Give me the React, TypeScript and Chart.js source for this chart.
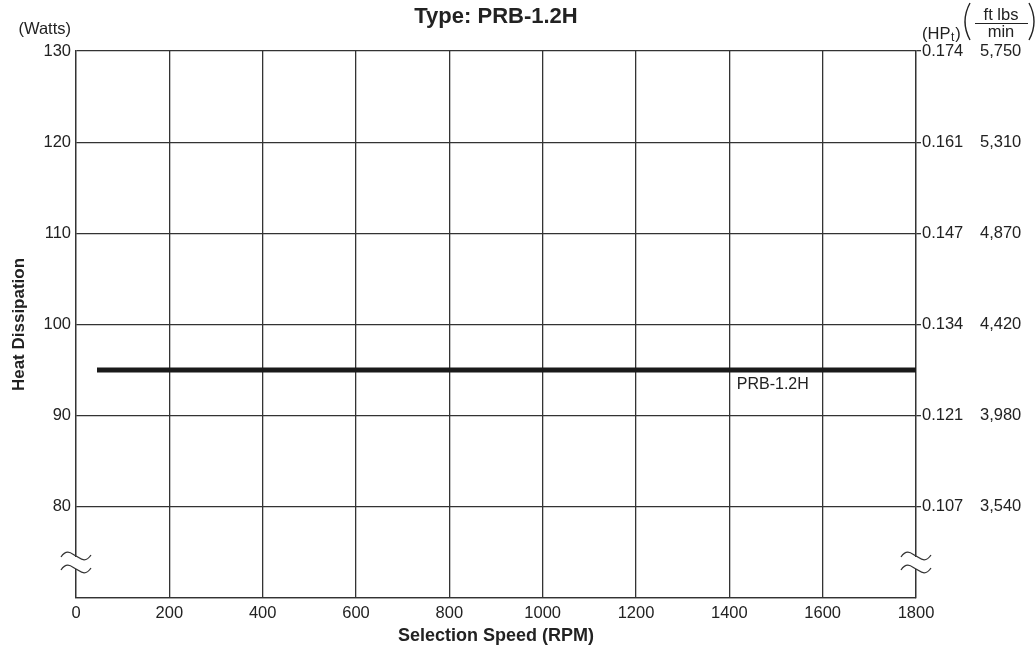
import React, { useEffect, useRef } from "react";
import { Chart, registerables } from "chart.js";

Chart.register(...registerables);

const chartTitle = "Type: PRB-1.2H";
const seriesName = "PRB-1.2H";
const speedRPM = [45, 1800];
const heatWatts = [95, 95];
const labelAnchor = [1416, 93.4];
const wattTicks = [70, 80, 90, 100, 110, 120, 130];
const hpLabels: Record<number, string> = {
  80: "0.107",
  90: "0.121",
  100: "0.134",
  110: "0.147",
  120: "0.161",
  130: "0.174",
};
const ftLbsLabels: Record<number, string> = {
  80: "3,540",
  90: "3,980",
  100: "4,420",
  110: "4,870",
  120: "5,310",
  130: "5,750",
};

const FONT = "'Liberation Sans', Arial, sans-serif";
const INK = "#222";
const GRID = "#333";
const TICK_SIZE = 16.5;

const decorPlugin = {
  id: "decor",
  afterDraw(chart: any) {
    const ctx = chart.ctx as CanvasRenderingContext2D;
    const area = chart.chartArea;
    const xs = chart.scales.x;
    const ys = chart.scales.y;
    ctx.save();
    ctx.fillStyle = INK;
    // title
    ctx.font = `bold 22px ${FONT}`;
    ctx.textAlign = "center";
    ctx.textBaseline = "middle";
    ctx.fillText(chartTitle, (area.left + area.right) / 2, 17);
    // x title
    ctx.font = `bold 18px ${FONT}`;
    ctx.fillText("Selection Speed (RPM)", (area.left + area.right) / 2, 636);
    // y title
    ctx.save();
    ctx.translate(19, (area.top + area.bottom) / 2);
    ctx.rotate(-Math.PI / 2);
    ctx.font = `bold 17px ${FONT}`;
    ctx.fillText("Heat Dissipation", 0, 0);
    ctx.restore();
    // unit headers
    ctx.font = `16.5px ${FONT}`;
    ctx.textAlign = "right";
    ctx.fillText("(Watts)", 71, 29);
    ctx.textAlign = "left";
    ctx.fillText("(HP", 922, 34);
    const hpW = ctx.measureText("(HP").width;
    ctx.font = `12px ${FONT}`;
    ctx.fillText("t", 922 + hpW + 0.5, 38);
    const tW = ctx.measureText("t").width;
    ctx.font = `16.5px ${FONT}`;
    ctx.fillText(")", 922 + hpW + tW + 1.5, 34);
    // fraction
    ctx.textAlign = "center";
    ctx.font = `16.5px ${FONT}`;
    ctx.fillText("ft lbs", 1001, 15);
    ctx.fillText("min", 1001, 32);
    ctx.strokeStyle = INK;
    ctx.lineWidth = 1.2;
    ctx.beginPath();
    ctx.moveTo(975, 23.5);
    ctx.lineTo(1028, 23.5);
    ctx.stroke();
    // parentheses
    ctx.lineWidth = 1.4;
    ctx.beginPath();
    ctx.moveTo(970, 3);
    ctx.quadraticCurveTo(960, 21.5, 970, 40);
    ctx.stroke();
    ctx.beginPath();
    ctx.moveTo(1029, 3);
    ctx.quadraticCurveTo(1039, 21.5, 1029, 40);
    ctx.stroke();
    // series label
    ctx.font = `16px ${FONT}`;
    ctx.textAlign = "left";
    ctx.fillText(seriesName, xs.getPixelForValue(labelAnchor[0]), ys.getPixelForValue(labelAnchor[1]));
    // axis breaks
    const drawBreak = (cx: number) => {
      ctx.fillStyle = "#fff";
      ctx.fillRect(cx - 2, 557, 4, 12);
      ctx.strokeStyle = GRID;
      ctx.lineWidth = 1.3;
      [556, 569].forEach((cy) => {
        ctx.beginPath();
        ctx.moveTo(cx - 15, cy + 1);
        ctx.bezierCurveTo(cx - 9, cy - 8, cx - 4, cy - 2, cx, cy);
        ctx.bezierCurveTo(cx + 4, cy + 2, cx + 9, cy + 8, cx + 15, cy - 1);
        ctx.stroke();
      });
    };
    drawBreak(area.left);
    drawBreak(area.right);
    ctx.restore();
  },
};

export default function App() {
  const ref = useRef<HTMLCanvasElement | null>(null);
  useEffect(() => {
    if (!ref.current) return;
    const tickFont = { family: FONT, size: TICK_SIZE };
    const chart = new Chart(ref.current, {
      type: "line",
      data: {
        datasets: [
          {
            label: seriesName,
            data: speedRPM.map((x, i) => ({ x, y: heatWatts[i] })),
            borderColor: "#1a1a1a",
            borderWidth: 5,
            pointRadius: 0,
            tension: 0,
            yAxisID: "y",
          },
        ],
      },
      options: {
        animation: false,
        responsive: false,
        devicePixelRatio: 1,
        layout: { padding: { top: 51, left: 0, right: 0, bottom: 0 } },
        plugins: { legend: { display: false }, tooltip: { enabled: false }, title: { display: false } },
        scales: {
          x: {
            type: "linear",
            min: 0,
            max: 1800,
            ticks: {
              stepSize: 200,
              font: tickFont,
              color: INK,
              padding: 6,
              maxRotation: 0,
              callback: (v: any) => String(v),
            },
            grid: { color: GRID, lineWidth: 1.3, drawTicks: false },
            border: { color: GRID, width: 1.3 },
            afterFit: (s: any) => {
              s.height = 51;
            },
          },
          y: {
            type: "linear",
            position: "left",
            min: 70,
            max: 130,
            afterBuildTicks: (s: any) => {
              s.ticks = wattTicks.map((v) => ({ value: v }));
            },
            ticks: {
              font: tickFont,
              color: INK,
              padding: 5,
              callback: (v: any) => (v === 70 ? "" : String(v)),
            },
            grid: { color: GRID, lineWidth: 1.3, drawTicks: false },
            border: { color: GRID, width: 1.3 },
            afterFit: (s: any) => {
              s.width = 76;
            },
          },
          y2: {
            type: "linear",
            position: "right",
            min: 70,
            max: 130,
            afterBuildTicks: (s: any) => {
              s.ticks = wattTicks.map((v) => ({ value: v }));
            },
            ticks: {
              font: tickFont,
              color: INK,
              padding: 1,
              callback: (v: any) => hpLabels[v] ?? "",
            },
            grid: {
              color: (c: any) => (hpLabels[c.tick?.value] ? GRID : "rgba(0,0,0,0)"),
              lineWidth: 1.3,
              drawOnChartArea: false,
              tickLength: 5,
            },
            border: { color: GRID, width: 1.3 },
            afterFit: (s: any) => {
              s.width = 50;
            },
          },
          y3: {
            type: "linear",
            position: "right",
            min: 70,
            max: 130,
            afterBuildTicks: (s: any) => {
              s.ticks = wattTicks.map((v) => ({ value: v }));
            },
            ticks: {
              font: tickFont,
              color: INK,
              padding: 6,
              callback: (v: any) => ftLbsLabels[v] ?? "",
            },
            grid: { display: false },
            border: { display: false },
            afterFit: (s: any) => {
              s.width = 70;
            },
          },
        },
      },
      plugins: [decorPlugin],
    } as any);
    return () => chart.destroy();
  }, []);
  return (
    <div style={{ position: "fixed", left: 0, top: 0, width: 1036, height: 649, background: "#fff" }}>
      <canvas ref={ref} width={1036} height={649} />
    </div>
  );
}
